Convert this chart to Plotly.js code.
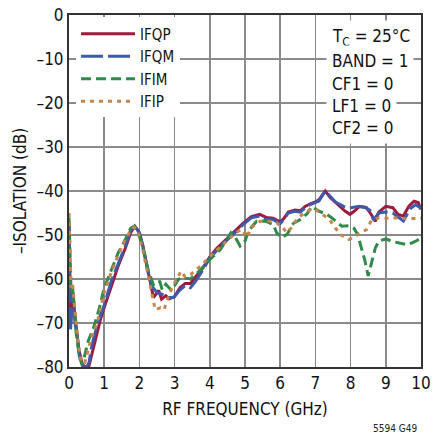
<!DOCTYPE html>
<html>
<head>
<meta charset="utf-8">
<script src="https://cdn.plot.ly/plotly-3.0.1.min.js"></script>
<style>html,body{margin:0;padding:0;background:#fff;}#chart{width:433px;height:434px;}</style>
</head>
<body>
<div id="chart"></div>
<script>
// IFQP (solid dark red)
const ifqpX = [0,0.02,0.05,0.08,0.11,0.15,0.2,0.28,0.38,0.48,0.56,0.65,0.75,0.9,1.0,1.2,1.4,1.6,1.75,1.87,2.0,2.1,2.25,2.4,2.55,2.63,2.75,2.85,3.0,3.15,3.3,3.45,3.6,3.8,4.0,4.2,4.4,4.66,4.8,4.95,5.18,5.42,5.6,5.8,6.0,6.1,6.23,6.42,6.57,6.71,6.85,7.0,7.1,7.2,7.28,7.42,7.6,7.72,7.85,7.98,8.1,8.25,8.45,8.6,8.7,8.8,9.0,9.2,9.35,9.5,9.65,9.8,9.92,10];
const ifqpY = [-47,-58,-70,-66,-63,-67,-71,-76,-79.5,-80,-80,-77,-74,-69,-66.5,-61.5,-57,-53,-49.5,-48,-49.5,-52.5,-58,-64.2,-62.6,-64.6,-63.8,-64.5,-64,-62,-61,-61,-59.5,-57.5,-55,-53,-51.5,-49.5,-48.5,-47.3,-45.8,-45.3,-46,-46.2,-47,-46.3,-44.8,-44.3,-44.5,-43.5,-42.9,-42.5,-42,-40.8,-40,-41.5,-42.8,-43.5,-44.6,-45.3,-44.6,-43.5,-43.8,-45.5,-46.9,-44.8,-43.5,-43.8,-45.3,-45.7,-43.5,-42.3,-42.6,-44.2];
// IFQM (long dash blue)
const ifqmX = [0,0.02,0.04,0.07,0.1,0.13,0.17,0.22,0.3,0.4,0.5,0.57,0.65,0.75,0.9,1.0,1.2,1.4,1.6,1.75,1.87,2.0,2.1,2.25,2.35,2.5,2.65,2.8,2.97,3.15,3.3,3.45,3.6,3.8,4.0,4.2,4.4,4.66,4.8,4.95,5.18,5.42,5.6,5.8,6.0,6.1,6.23,6.42,6.57,6.71,6.85,7.0,7.1,7.2,7.28,7.42,7.57,7.8,7.95,8.2,8.4,8.55,8.65,8.8,9.0,9.2,9.4,9.5,9.7,9.85,10];
const ifqmY = [-48,-60,-72,-68,-63,-65,-70,-72,-78,-80,-80,-79,-75,-72,-68,-66,-60.5,-56.5,-52.5,-49,-47.8,-49.5,-52.5,-58.6,-61.6,-63.1,-63.5,-64.2,-64.2,-62.5,-61.5,-62,-60.5,-58,-55.2,-53.5,-51.8,-49.9,-48.8,-47.6,-46.1,-45.7,-46.5,-46.5,-47.4,-46.5,-45,-44.6,-44.8,-43.8,-43.1,-42.7,-42.3,-41,-40,-41.2,-42.5,-43.5,-43.9,-43.5,-43.7,-44.4,-46.6,-45,-44.8,-45,-46.1,-46.8,-44,-43.1,-43.9];
// IFIM (dash green)
const ifimX = [0,0.03,0.06,0.1,0.15,0.2,0.3,0.38,0.45,0.55,0.7,0.85,1.0,1.2,1.4,1.6,1.75,1.85,1.95,2.1,2.25,2.4,2.5,2.58,2.65,2.75,2.9,3.0,3.1,3.2,3.3,3.45,3.6,3.76,4.0,4.3,4.6,4.7,4.8,4.86,5.0,5.1,5.33,5.6,5.8,5.9,6.05,6.2,6.37,6.57,6.76,6.9,7.1,7.3,7.45,7.65,7.75,7.95,8.1,8.2,8.3,8.4,8.5,8.6,8.7,8.8,9.0,9.2,9.4,9.6,9.75,9.9,10];
const ifimY = [-46,-55,-63,-62,-66,-72,-78,-79.5,-77,-74,-71,-67,-62,-58,-54,-51,-48.5,-48,-49,-53,-58,-61.3,-60.5,-60.6,-62.5,-61.2,-62.5,-61.5,-60.2,-59.5,-59.8,-60,-59,-57.7,-55.6,-53.3,-49.5,-50.2,-51.8,-52.5,-51.4,-49,-46.9,-46.9,-47.6,-49.5,-50.6,-49.8,-47.4,-46.5,-45.2,-43.5,-44.6,-45.2,-46,-47.4,-48,-47.9,-48.5,-49.9,-52.5,-55.6,-59.3,-56.3,-53,-51.4,-50.9,-51.5,-51.8,-52.2,-51.8,-51.2,-50.5];
// IFIP (dot orange)
const ifipX = [0,0.03,0.06,0.1,0.13,0.18,0.25,0.35,0.45,0.55,0.65,0.8,1.0,1.2,1.4,1.6,1.75,1.85,1.95,2.1,2.25,2.35,2.45,2.6,2.7,2.8,2.95,3.1,3.18,3.3,3.45,3.6,3.76,4.0,4.3,4.55,4.74,4.9,5.0,5.07,5.15,5.42,5.7,5.9,6.05,6.2,6.3,6.5,6.7,6.9,7.0,7.2,7.4,7.56,7.7,7.9,7.95,8.1,8.25,8.45,8.6,8.8,9.0,9.3,9.6,10];
const ifipY = [-45,-55,-62,-61,-64,-69,-74,-79,-79,-76,-73,-70,-63,-58.5,-54.5,-51,-49,-48.2,-49,-53.5,-59,-63,-67,-66.5,-67,-64.5,-61.5,-59.5,-58.2,-59.5,-59,-58,-56.9,-54.9,-52.8,-51,-49.5,-48.7,-50,-50.6,-48.5,-46.9,-46.9,-47.2,-48.2,-49.5,-48.5,-46.1,-45,-44,-44.2,-45.3,-46.5,-48.3,-49.9,-50.6,-51,-50.5,-49.6,-48.8,-46.6,-46.1,-46.2,-46.1,-46.3,-46.2];

const seriesNames = ["IFQP","IFQM","IFIM","IFIP"];
const xTicks = [0,1,2,3,4,5,6,7,8,9,10];
const yTicks = [0,-10,-20,-30,-40,-50,-60,-70,-80];
const yTickText = ["0","–10","–20","–30","–40","–50","–60","–70","–80"];
const condLines = ["T<sub>C</sub> = 25°C","BAND = 1","CF1 = 0","LF1 = 0","CF2 = 0"];

const FONT = "'Liberation Sans Narrow', 'Arial Narrow', 'DejaVu Sans Condensed', sans-serif";

const styles = [
  {color:"#9e1b3c", dash:"solid"},
  {color:"#3d5aab", dash:"22px,5px"},
  {color:"#2f8a4b", dash:"10px,5px"},
  {color:"#c8844a", dash:"4px,5px"}
];
const xs = [ifqpX, ifqmX, ifimX, ifipX];
const ys = [ifqpY, ifqmY, ifimY, ifipY];

const traces = seriesNames.map((n,i)=>({
  x: xs[i], y: ys[i], name: n, type: "scatter", mode: "lines",
  line: {color: styles[i].color, width: 3, dash: styles[i].dash}
}));

const L = 69, R = 12, T = 15, B = 67;
const plotH = 434 - T - B;
const condPx = [37, 61, 83.5, 106, 128];
const annotations = condLines.map((t,i)=>({
  xref:"paper", yref:"paper", x: 0.729, y: 1 - (condPx[i]-T)/plotH,
  xanchor:"left", yanchor:"middle", text: t, showarrow:false,
  font:{family:FONT, size:17, color:"#111"}, bgcolor:"#fff", borderpad:5
}));
annotations.push({
  xref:"paper", yref:"paper", x: 0.995, y: -0.175, xanchor:"right", yanchor:"middle",
  text:"5594 G49", showarrow:false, font:{family:FONT, size:10, color:"#222"}
});

const layout = {
  width: 433, height: 434,
  margin: {l:L, r:R, t:T, b:B},
  paper_bgcolor:"#fff", plot_bgcolor:"#fff",
  font: {family: FONT, size: 17, color:"#111"},
  showlegend: true,
  legend: {x:0.02, y:0.993, xanchor:"left", yanchor:"top", bgcolor:"#fff",
           font:{family:FONT, size:15, color:"#111"}, itemwidth:54, tracegroupgap:0},
  xaxis: {range:[0,10], tickvals:xTicks, ticktext:xTicks.map(String), showgrid:true,
          gridcolor:"#8a8a8a", gridwidth:1.5, zeroline:false, showline:true, linecolor:"#333",
          linewidth:2, mirror:true, ticks:"", tickfont:{family:FONT,size:17},
          title:{text:"RF FREQUENCY (GHz)", font:{family:FONT,size:17}, standoff:11}},
  yaxis: {range:[-80,0], tickvals:yTicks, ticktext:yTickText, showgrid:true,
          gridcolor:"#8a8a8a", gridwidth:1.5, zeroline:false, showline:true, linecolor:"#333",
          linewidth:2, mirror:true, ticks:"", tickfont:{family:FONT,size:17},
          title:{text:"–ISOLATION (dB)", font:{family:FONT,size:17}, standoff:6}},
  annotations: annotations
};

Plotly.newPlot("chart", traces, layout, {displayModeBar:false, staticPlot:true});
</script>
</body>
</html>
